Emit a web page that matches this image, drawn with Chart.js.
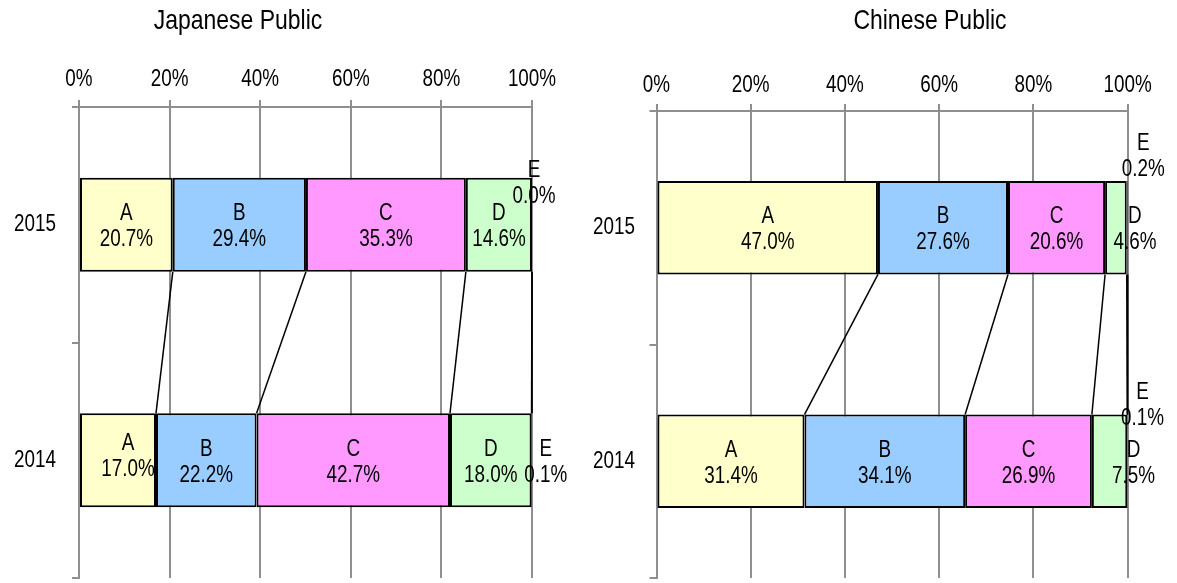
<!DOCTYPE html>
<html>
<head>
<meta charset="utf-8">
<script src="https://cdn.jsdelivr.net/npm/chart.js@4.4.1/dist/chart.umd.min.js"></script>
<style>
  html, body { margin: 0; padding: 0; background: #fff; }
  #wrap { position: relative; width: 1177px; height: 583px; }
  .box { position: absolute; top: 0; height: 583px; }
</style>
</head>
<body>
<div id="wrap">
  <div class="box" style="left:0;width:590px"><canvas id="jp"></canvas></div>
  <div class="box" style="left:590px;width:587px"><canvas id="cn"></canvas></div>
</div>
<script>
// categories and values (percent shares, top bar first)
const years = ["2015", "2014"];
const groups = ["A", "B", "C", "D", "E"];
const japan2015 = [20.7, 29.4, 35.3, 14.6, 0.0];
const japan2014 = [17.0, 22.2, 42.7, 18.0, 0.1];
const china2015 = [47.0, 27.6, 20.6, 4.6, 0.2];
const china2014 = [31.4, 34.1, 26.9, 7.5, 0.1];
const xTicks = [0, 20, 40, 60, 80, 100];

const fills = ["#FFFFCC", "#99CCFF", "#FF99FF", "#CCFFCC", "#FFCC99"];
const FONT = "'Liberation Sans', Arial, sans-serif";
const GRID = "#8f8f8f";
const SQUEEZE = 0.82; // the original uses a narrow face

Chart.defaults.font.family = FONT;
Chart.defaults.color = "#000";

function narrowText(ctx, text, x, y, size, align, baseline) {
    ctx.save();
    ctx.translate(x, y);
    ctx.scale(SQUEEZE, 1);
    ctx.font = size + "px " + FONT;
    ctx.fillStyle = "#000";
    ctx.textAlign = align;
    ctx.textBaseline = baseline;
    ctx.fillText(text, 0, 0);
    ctx.restore();
}

// lines joining the segment edges of the two bars
const connectors = {
    id: "connectors",
    afterDatasetsDraw(chart) {
        const ctx = chart.ctx;
        ctx.save();
        ctx.strokeStyle = "#000";
        ctx.lineWidth = 1.5;
        chart.data.datasets.forEach((ds, i) => {
            const meta = chart.getDatasetMeta(i);
            const top = meta.data[0].getProps(["x", "y", "height"], true);
            const bot = meta.data[1].getProps(["x", "y", "height"], true);
            ctx.beginPath();
            ctx.moveTo(top.x, top.y + top.height / 2);
            ctx.lineTo(bot.x, bot.y - bot.height / 2);
            ctx.stroke();
        });
        ctx.restore();
    }
};

// "A / 20.7%" labels inside the segments
const segLabels = {
    id: "segLabels",
    afterDatasetsDraw(chart, args, opts) {
        const ctx = chart.ctx;
        const offsets = opts.offsets || {};
        chart.data.datasets.forEach((ds, i) => {
            const meta = chart.getDatasetMeta(i);
            meta.data.forEach((bar, j) => {
                const p = bar.getProps(["x", "y", "base"], true);
                const off = offsets[chart.data.labels[j] + "-" + ds.label] || [0, 0];
                const cx = (p.x + p.base) / 2 + off[0];
                const cy = p.y + 2 + off[1];
                narrowText(ctx, ds.label, cx, cy - 13, 23, "center", "middle");
                narrowText(ctx, ds.data[j].toFixed(1) + "%", cx, cy + 13, 23, "center", "middle");
            });
        });
    }
};

// tick labels and panel title, drawn from the chart's own scales
const axisText = {
    id: "axisText",
    afterDraw(chart, args, opts) {
        const ctx = chart.ctx;
        const xs = chart.scales.x;
        const ys = chart.scales.y;
        xs.ticks.forEach((t, i) => {
            narrowText(ctx, t.value + "%", xs.getPixelForTick(i), xs.bottom - 7 - opts.xPad, 23, "center", "alphabetic");
        });
        ys.ticks.forEach((t, i) => {
            narrowText(ctx, chart.data.labels[t.value], ys.right - 7 - opts.yPad, ys.getPixelForTick(i), 23, "right", "middle");
        });
        narrowText(ctx, opts.title, opts.titleX, 21, 28, "center", "middle");
    }
};

function makeChart(id, title, d2015, d2014, geo) {
    const datasets = groups.map((g, i) => ({
        label: g,
        data: [d2015[i], d2014[i]],
        backgroundColor: fills[i],
        borderColor: "#000",
        borderWidth: 2,
        borderSkipped: false,
        categoryPercentage: 1,
        barPercentage: 0.4
    }));

    return new Chart(document.getElementById(id), {
        type: "bar",
        data: { labels: years, datasets: datasets },
        options: {
            indexAxis: "y",
            responsive: true,
            maintainAspectRatio: false,
            animation: false,
            layout: { padding: { left: 0, top: 0, right: geo.right, bottom: 5 } },
            plugins: {
                legend: { display: false },
                tooltip: { enabled: false },
                segLabels: { offsets: geo.offsets },
                axisText: { title: title, titleX: geo.titleX, xPad: geo.xPad, yPad: geo.yPad }
            },
            scales: {
                x: {
                    position: "top",
                    stacked: true,
                    min: 0,
                    max: 100,
                    afterBuildTicks: (s) => { s.ticks = xTicks.map((v) => ({ value: v })); },
                    ticks: { display: false },
                    grid: { color: GRID, lineWidth: 2, tickLength: 7 },
                    border: { color: GRID, width: 2 },
                    afterFit: (s) => { s.height = geo.top; }
                },
                y: {
                    stacked: true,
                    ticks: { display: false },
                    grid: { drawOnChartArea: false, color: GRID, lineWidth: 2, tickLength: 7 },
                    border: { color: GRID, width: 2 },
                    afterFit: (s) => { s.width = geo.left; s.paddingTop = 0; s.paddingBottom = 0; }
                }
            }
        },
        plugins: [connectors, segLabels, axisText]
    });
}

makeChart("jp", "Japanese Public", japan2015, japan2014, {
    left: 79, top: 107, right: 58, xPad: 14, yPad: 16, titleX: 238,
    offsets: { "2015-E": [2, -43], "2014-A": [10, -6], "2014-E": [14, 0] }
});

makeChart("cn", "Chinese Public", china2015, china2014, {
    left: 66.5, top: 111, right: 49.3, xPad: 12, yPad: 14.5, titleX: 340,
    offsets: { "2015-D": [19, 0], "2015-E": [16, -73], "2014-D": [24, 0], "2014-E": [15, -58] }
});
</script>
</body>
</html>
